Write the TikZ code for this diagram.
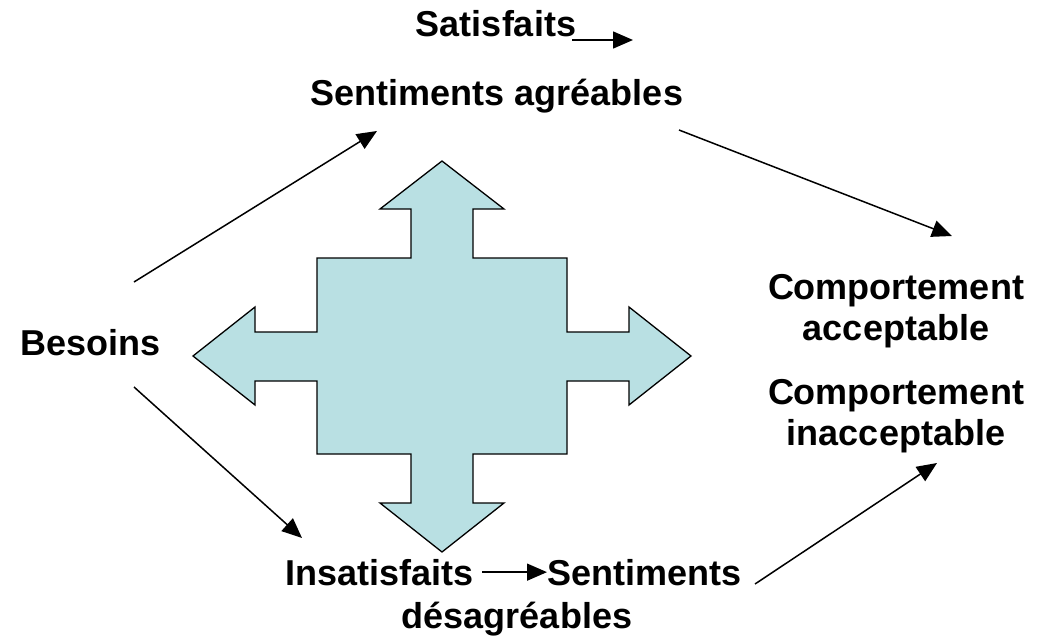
\documentclass[tikz,border=0pt]{standalone}
\usepackage{fontspec}
\setmainfont{Liberation Sans}
\usepackage{tikz}
\usetikzlibrary{arrows.meta}
\definecolor{crossblue}{RGB}{185,224,227}

\tikzset{
	lbl/.style={font=\bfseries\fontsize{36}{41}\selectfont,inner sep=0pt,align=center},
	link/.style={line width=1.5pt,-{Triangle[length=20pt,width=17pt]}}
}

\begin{document}
\begin{tikzpicture}[x=1pt,y=-1pt]
	\useasboundingbox (0,0) rectangle (1050,637);
	\draw[fill=crossblue,line width=1.3pt,line join=miter] (442,161) -- (504,209) -- (473,209) -- (473,258) -- (567,258) -- (567,332) -- (629,332) -- (629,307) -- (691,356) -- (629,405) -- (629,381) -- (567,381) -- (567,454) -- (473,454) -- (473,503) -- (504,503) -- (442,552) -- (380,503) -- (411,503) -- (411,454) -- (317,454) -- (317,381) -- (255,381) -- (255,405) -- (193,356) -- (255,307) -- (255,332) -- (317,332) -- (317,258) -- (411,258) -- (411,209) -- (380,209) -- cycle;
	\node[lbl,anchor=base west] (besoins) at (20,355) {Besoins};
	\node[lbl,anchor=base] (satis) at (496,36) {Satisfaits};
	\node[lbl,anchor=base] (sentAgr) at (497,105) {Sentiments agréables};
	\node[lbl,anchor=base] (compAcc) at (896,340) {Comportement\\acceptable};
	\node[lbl,anchor=base] (compInacc) at (896,445) {Comportement\\inacceptable};
	\node[lbl,anchor=base east] (insat) at (474,585) {Insatisfaits};
	\node[lbl,anchor=base west] (sentDes) at (547,585) {Sentiments};
	\node[lbl,anchor=base] (desagr) at (517,628) {désagréables};
	\coordinate (satisEnd) at (633,40);
	\coordinate (besoinsUp) at (134,282);
	\coordinate (besoinsDown) at (134,387);
	\coordinate (agrTip) at (377,131);
	\coordinate (agrOut) at (679,130);
	\coordinate (accTip) at (952,236);
	\coordinate (insatTip) at (302,538);
	\coordinate (desOut) at (755,584);
	\coordinate (inaccTip) at (937,463);
	\draw[link] ([xshift=-4pt,yshift=-4pt]satis.base east) -- (satisEnd);
	\draw[link] (besoinsUp) -- (agrTip);
	\draw[link] (agrOut) -- (accTip);
	\draw[link] (besoinsDown) -- (insatTip);
	\draw[link,shorten <=8pt] (insat.east) -- (sentDes.west);
	\draw[link] (desOut) -- (inaccTip);
\end{tikzpicture}
\end{document}
